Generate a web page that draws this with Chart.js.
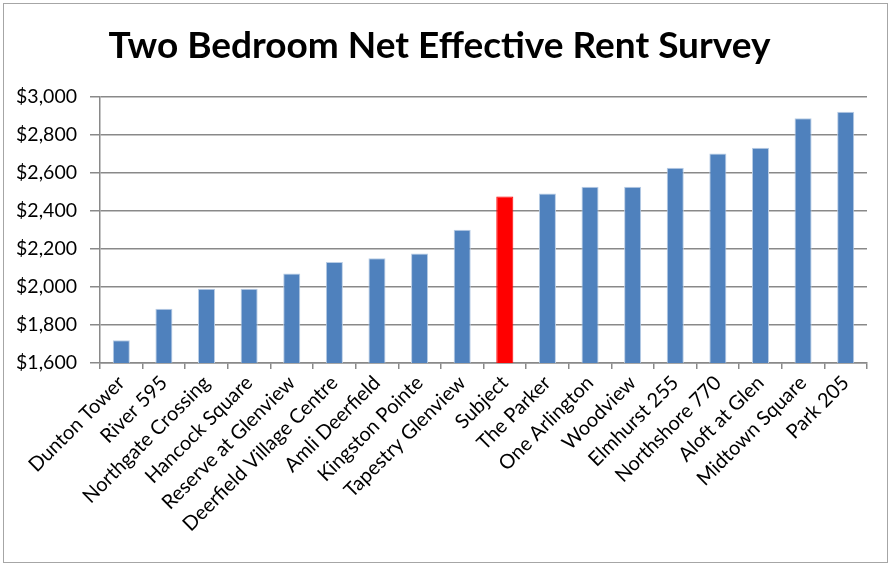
<!DOCTYPE html>
<html>
<head>
<meta charset="utf-8">
<script src="https://cdn.jsdelivr.net/npm/chart.js@4"></script>
<style>
  html, body { margin: 0; padding: 0; background: #fff; }
  #wrap { position: relative; width: 891px; height: 571px; }
  #frame { position: absolute; left: 3px; top: 3px; width: 883px; height: 558px; border: 1px solid #a6a6a6; pointer-events: none; }
  canvas { position: absolute; left: 0; top: 0; }
</style>
</head>
<body>
<div id="wrap">
  <canvas id="rentChart" width="891" height="571"></canvas>
  <div id="frame"></div>
</div>
<script>
// Datos del gráfico
const properties = ['Dunton Tower', 'River 595', 'Northgate Crossing', 'Hancock Square', 'Reserve at Glenview',
    'Deerfield Village Centre', 'Amli Deerfield', 'Kingston Pointe', 'Tapestry Glenview', 'Subject',
    'The Parker', 'One Arlington', 'Woodview', 'Elmhurst 255', 'Northshore 770', 'Aloft at Glen',
    'Midtown Square', 'Park 205'];
const rents = [1720, 1885, 1990, 1990, 2070, 2130, 2150, 2175, 2300, 2475,
    2490, 2525, 2525, 2625, 2700, 2730, 2885, 2920];
const subjectName = 'Subject';
const yMin = 1600;
const yMax = 3000;
const yStep = 200;

const barColors = properties.map(p => p === subjectName ? '#FF0000' : '#4F81BD');
const barBorders = properties.map(p => p === subjectName ? '#FF0000' : '#B9CDE5');

const ctx = document.getElementById('rentChart').getContext('2d');
new Chart(ctx, {
    type: 'bar',
    data: {
        labels: properties,
        datasets: [{
            label: 'Net Effective Rent',
            data: rents,
            backgroundColor: barColors,
            borderColor: barBorders,
            borderWidth: 1,
            barPercentage: 0.4,
            categoryPercentage: 1
        }]
    },
    options: {
        responsive: false,
        animation: false,
        layout: { padding: { left: 12, right: 24, top: 0, bottom: 0 } },
        plugins: {
            legend: { display: false },
            tooltip: { enabled: false },
            title: {
                display: true,
                text: 'Two Bedroom Net Effective Rent Survey',
                color: '#000',
                font: { family: 'Lato', size: 37, weight: 'bold' },
                padding: { top: 24, bottom: 28 }
            }
        },
        scales: {
            x: {
                offset: true,
                grid: {
                    offset: true,
                    drawOnChartArea: false,
                    drawTicks: true,
                    tickLength: 6,
                    color: '#898989',
                    lineWidth: 1.5
                },
                border: { color: '#898989', width: 1.5 },
                ticks: {
                    color: '#000',
                    font: { family: 'Lato', size: 20 },
                    minRotation: 45,
                    maxRotation: 45,
                    autoSkip: false,
                    padding: 2
                },
                afterFit: scale => { scale.height = 208; }
            },
            y: {
                min: yMin,
                max: yMax,
                grid: {
                    color: '#898989',
                    lineWidth: 1.5,
                    drawTicks: true,
                    tickLength: 10
                },
                border: { color: '#898989', width: 1.5 },
                ticks: {
                    stepSize: yStep,
                    color: '#000',
                    font: { family: 'Lato', size: 19.5 },
                    padding: 13,
                    callback: v => '$' + v.toLocaleString('en-US')
                },
                afterFit: scale => { scale.width = 88; }
            }
        }
    }
});
</script>
</body>
</html>
